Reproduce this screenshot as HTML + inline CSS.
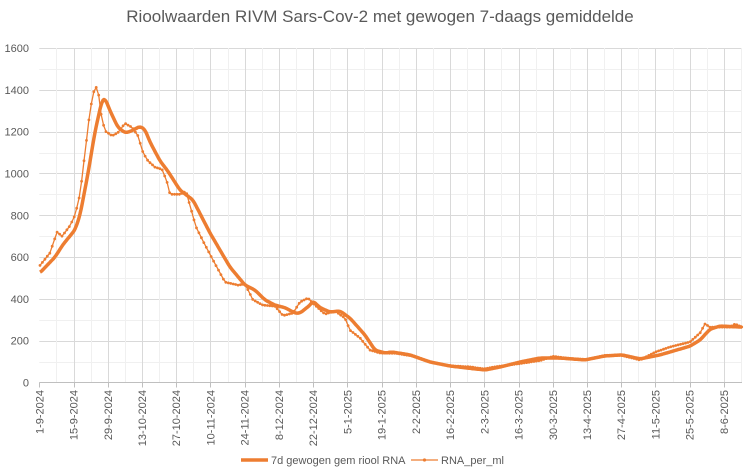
<!DOCTYPE html>
<html><head><meta charset="utf-8"><style>
body{margin:0;background:#fff;}
svg{display:block;font-family:"Liberation Sans",sans-serif;}
</style></head><body>
<svg id="s" width="752" height="474" xmlns="http://www.w3.org/2000/svg">
<text x="380" y="22" text-anchor="middle" font-size="17" fill="#595959">Rioolwaarden RIVM Sars-Cov-2 met gewogen 7-daags gemiddelde</text>
<g id="grid"></g>
<g id="lab" font-size="11" fill="#595959"></g>
<path id="raw" fill="none" stroke="#ED7D31" stroke-width="1.3"/>
<g id="mk" fill="#ED7D31"></g>
<path id="sm" fill="none" stroke="#ED7D31" stroke-width="3.5" stroke-linejoin="round"/>
<line x1="241" y1="460" x2="268" y2="460" stroke="#ED7D31" stroke-width="3.5"/>
<text x="271" y="464" font-size="11" fill="#595959">7d gewogen gem riool RNA</text>
<line x1="411" y1="460" x2="438" y2="460" stroke="#ED7D31" stroke-width="1.3"/>
<circle cx="424.5" cy="460" r="1.6" fill="#ED7D31"/>
<text x="441" y="464" font-size="11" fill="#595959">RNA_per_ml</text>
</svg>
<script>
const ns="http://www.w3.org/2000/svg";
const X0=39.3,DX=2.445,Y0=382.5,YK=334.5/1600,XR=742;
const Y=v=>Y0-v*YK;
let g=document.getElementById('grid'),l=document.getElementById('lab');
function ln(x1,y1,x2,y2,c){let e=document.createElementNS(ns,'line');e.setAttribute('x1',x1);e.setAttribute('y1',y1);e.setAttribute('x2',x2);e.setAttribute('y2',y2);e.setAttribute('stroke',c);e.setAttribute('stroke-width',1);g.appendChild(e);}
for(let v=100;v<=1600;v+=100){let y=Math.round(Y(v))+.5;ln(X0,y,XR,y,v%200?'#f0f0f0':'#d9d9d9');}
for(let d=7;X0+d*DX<=XR;d+=7){let x=Math.round(X0+d*DX)+.5;ln(x,Y(1600),x,Y0,d%14?'#f0f0f0':'#d9d9d9');}
ln(X0,Y0,XR,Y0,'#bfbfbf');
for(let v=0;v<=1600;v+=200){let t=document.createElementNS(ns,'text');t.setAttribute('x',29);t.setAttribute('y',Y(v)+4);t.setAttribute('text-anchor','end');t.textContent=v;l.appendChild(t);}
const labs=["1-9-2024","15-9-2024","29-9-2024","13-10-2024","27-10-2024","10-11-2024","24-11-2024","8-12-2024","22-12-2024","5-1-2025","19-1-2025","2-2-2025","16-2-2025","2-3-2025","16-3-2025","30-3-2025","13-4-2025","27-4-2025","11-5-2025","25-5-2025","8-6-2025"];
labs.forEach((s,i)=>{let x=X0+i*14*DX;ln(Math.round(x)+.5,Y0,Math.round(x)+.5,Y0+5,'#bfbfbf');let t=document.createElementNS(ns,'text');t.setAttribute('transform',`translate(${x+4},390) rotate(-90)`);t.setAttribute('text-anchor','end');t.textContent=s;l.appendChild(t);});
const SM2=[[40,525],[55,600],[63,660],[75,730],[80,800],[88,1000],[95,1200],[102,1350],[105,1360],[110,1300],[118,1220],[125,1195],[130,1200],[140,1225],[145,1210],[150,1150],[160,1060],[168,1010],[180,920],[193,873],[210,715],[230,552],[245,466],[255,442],[265,395],[275,370],[285,358],[295,332],[300,332],[310,370],[313,390],[320,358],[330,337],[340,342],[350,308],[365,227],[375,155],[385,141],[392,146],[410,132],[430,98],[450,79],[475,65],[485,60],[500,74],[520,98],[540,117],[560,117],[585,108],[605,127],[622,132],[640,113],[660,132],[680,160],[690,174],[700,203],[710,255],[720,270],[742,265]];
const RAW=[[40,560],[50,620],[57,720],[62,700],[70,750],[75,800],[80,900],[85,1100],[90,1300],[95,1420],[98,1400],[102,1250],[106,1200],[112,1180],[118,1195],[125,1240],[132,1220],[138,1180],[143,1100],[148,1060],[155,1030],[162,1020],[167,960],[170,900],[180,900],[186,915],[196,744],[205,658],[213,586],[225,480],[238,466],[245,471],[253,395],[263,370],[275,365],[283,320],[293,332],[300,385],[308,404],[315,370],[325,327],[335,342],[345,308],[350,250],[360,213],[370,155],[380,141],[395,140],[415,125],[430,100],[450,80],[470,75],[484,65],[495,75],[519,90],[540,105],[553,125],[570,115],[587,110],[605,130],[621,130],[640,108],[655,145],[670,170],[690,194],[700,237],[705,280],[710,265],[730,265],[735,280],[742,265]];
function interp(P,x){for(let i=1;i<P.length;i++){if(x<=P[i][0]){let a=P[i-1],b=P[i],t=(x-a[0])/(b[0]-a[0]);return a[1]+(b[1]-a[1])*t;}}return P[P.length-1][1];}
let d1='',d2='',mk=document.getElementById('mk');
for(let x=40;x<=742;x+=1){let v=0,n=0;for(let k=-2;k<=2;k++){v+=interp(SM2,Math.min(742,Math.max(40,x+k)));n++;}d1+=(x==40?'M':'L')+x+','+Y(v/n).toFixed(1);}
document.getElementById('sm').setAttribute('d',d1);
for(let x=40;x<=742;x+=DX){let y=Y(interp(RAW,x)).toFixed(1);d2+=(x==40?'M':'L')+x.toFixed(1)+','+y;let c=document.createElementNS(ns,'circle');c.setAttribute('cx',x.toFixed(1));c.setAttribute('cy',y);c.setAttribute('r',1.4);mk.appendChild(c);}
document.getElementById('raw').setAttribute('d',d2);
</script>
</body></html>
